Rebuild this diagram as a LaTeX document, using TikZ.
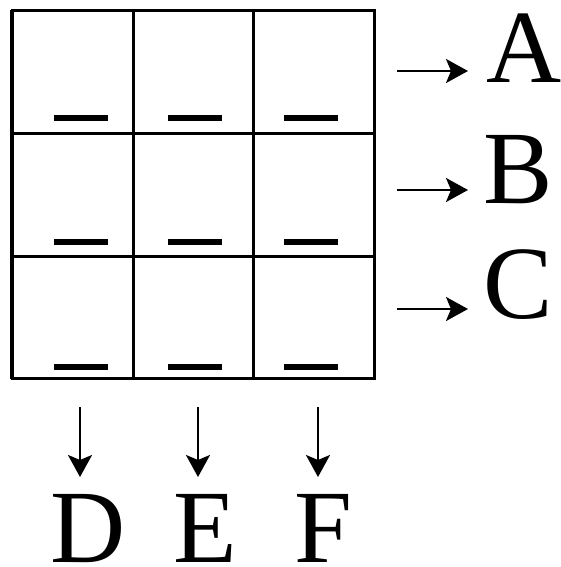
\documentclass[tikz,border=0pt]{standalone}
\usepackage{fontspec}
\setmainfont{Liberation Serif}
\usetikzlibrary{arrows.meta}
\begin{document}
\begin{tikzpicture}[x=1pt,y=-1pt,>={Stealth[length=22pt,width=24pt,inset=5pt]},
  letter/.style={font=\fontsize{104}{104}\selectfont,inner sep=0pt,anchor=base},
  gridline/.style={line width=3pt,line cap=rect},
  blank/.style={line width=6pt},
  pointer/.style={->,line width=2.4pt}]
\useasboundingbox (0,0) rectangle (561,567);
% the 3x3 grid
\foreach \x in {133,253,374} \draw[gridline] (\x,11) -- (\x,378);
\foreach \y in {11,133,256,378} \draw[gridline] (12,\y) -- (374,\y);
\draw[line width=4.5pt] (12,10) -- (12,379);
% blanks in the cells
\foreach \y in {118,242,367}
  \foreach \x in {81,195,311}
    \draw[blank] (\x-27,\y) -- (\x+27,\y);
% row labels
\node[letter] (A) at (524,83) {A};
\node[letter] (B) at (518,203) {B};
\node[letter] (C) at (518,318) {C};
\foreach \r/\y in {A/71,B/190,C/309} {
  \coordinate (s\r) at (397,\y);
  \coordinate (t\r) at (468,\y);
  \draw[pointer] (s\r) -- (t\r);
}
% column labels
\node[letter] (D) at (88,562) {D};
\node[letter] (E) at (205,562) {E};
\node[letter] (F) at (323,562) {F};
\foreach \c/\x in {D/80,E/198,F/318} {
  \coordinate (s\c) at (\x,407);
  \coordinate (t\c) at (\x,477);
  \draw[pointer] (s\c) -- (t\c);
}
\end{tikzpicture}
\end{document}
